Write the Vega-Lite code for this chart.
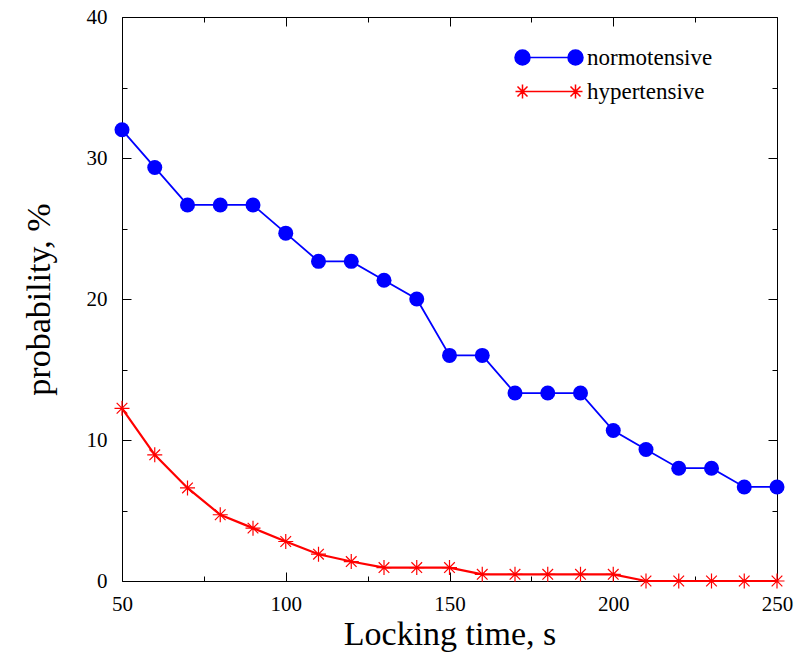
{
  "$schema": "https://vega.github.io/schema/vega-lite/v6.json",
  "autosize": {"type": "none"},
  "width": 655,
  "height": 564,
  "padding": {"left": 122, "top": 17, "right": 31, "bottom": 72},
  "background": "white",
  "config": {
    "view": {"stroke": "#000000", "strokeWidth": 1},
    "axis": {
      "domain": false,
      "grid": false,
      "labelFlush": false,
      "tickColor": "#000000",
      "tickWidth": 1,
      "labelFont": "Liberation Serif",
      "labelFontSize": 21,
      "labelColor": "#000000",
      "titleFont": "Liberation Serif",
      "titleFontSize": 34,
      "titleFontWeight": "normal",
      "titleColor": "#000000"
    },
    "legend": {
      "labelFont": "Liberation Serif",
      "labelFontSize": 23,
      "labelColor": "#000000"
    }
  },
  "data": {
    "values": [
      {"time": 50, "series": "normotensive", "prob": 32.0},
      {"time": 60, "series": "normotensive", "prob": 29.33},
      {"time": 70, "series": "normotensive", "prob": 26.67},
      {"time": 80, "series": "normotensive", "prob": 26.67},
      {"time": 90, "series": "normotensive", "prob": 26.67},
      {"time": 100, "series": "normotensive", "prob": 24.67},
      {"time": 110, "series": "normotensive", "prob": 22.67},
      {"time": 120, "series": "normotensive", "prob": 22.67},
      {"time": 130, "series": "normotensive", "prob": 21.33},
      {"time": 140, "series": "normotensive", "prob": 20.0},
      {"time": 150, "series": "normotensive", "prob": 16.0},
      {"time": 160, "series": "normotensive", "prob": 16.0},
      {"time": 170, "series": "normotensive", "prob": 13.33},
      {"time": 180, "series": "normotensive", "prob": 13.33},
      {"time": 190, "series": "normotensive", "prob": 13.33},
      {"time": 200, "series": "normotensive", "prob": 10.67},
      {"time": 210, "series": "normotensive", "prob": 9.33},
      {"time": 220, "series": "normotensive", "prob": 8.0},
      {"time": 230, "series": "normotensive", "prob": 8.0},
      {"time": 240, "series": "normotensive", "prob": 6.67},
      {"time": 250, "series": "normotensive", "prob": 6.67},
      {"time": 50, "series": "hypertensive", "prob": 12.25},
      {"time": 60, "series": "hypertensive", "prob": 8.95},
      {"time": 70, "series": "hypertensive", "prob": 6.6},
      {"time": 80, "series": "hypertensive", "prob": 4.7},
      {"time": 90, "series": "hypertensive", "prob": 3.75},
      {"time": 100, "series": "hypertensive", "prob": 2.8},
      {"time": 110, "series": "hypertensive", "prob": 1.9},
      {"time": 120, "series": "hypertensive", "prob": 1.38},
      {"time": 130, "series": "hypertensive", "prob": 0.95},
      {"time": 140, "series": "hypertensive", "prob": 0.95},
      {"time": 150, "series": "hypertensive", "prob": 0.95},
      {"time": 160, "series": "hypertensive", "prob": 0.47},
      {"time": 170, "series": "hypertensive", "prob": 0.47},
      {"time": 180, "series": "hypertensive", "prob": 0.47},
      {"time": 190, "series": "hypertensive", "prob": 0.47},
      {"time": 200, "series": "hypertensive", "prob": 0.47},
      {"time": 210, "series": "hypertensive", "prob": 0.0},
      {"time": 220, "series": "hypertensive", "prob": 0.0},
      {"time": 230, "series": "hypertensive", "prob": 0.0},
      {"time": 240, "series": "hypertensive", "prob": 0.0},
      {"time": 250, "series": "hypertensive", "prob": 0.0}
    ]
  },
  "resolve": {"axis": {"x": "independent", "y": "independent"}},
  "layer": [
    {
      "transform": [{"filter": "datum.series === 'normotensive'"}],
      "mark": {"type": "line", "strokeWidth": 1.8, "color": "#0000ff", "clip": false},
      "encoding": {
        "x": {"field": "time", "type": "quantitative", "scale": {"domain": [50, 250], "nice": false, "zero": false},
              "axis": {"orient": "bottom", "values": [50, 100, 150, 200, 250], "tickSize": -9, "labelPadding": 21, "title": "Locking time, s", "titlePadding": 3}},
        "y": {"field": "prob", "type": "quantitative", "scale": {"domain": [0, 40], "nice": false},
              "axis": {"orient": "left", "values": [0, 10, 20, 30, 40], "tickSize": -9, "labelPadding": 24, "title": "probability, %", "titlePadding": 30}}
      }
    },
    {
      "transform": [{"filter": "datum.series === 'hypertensive'"}],
      "mark": {"type": "line", "strokeWidth": 2.2, "color": "#ff0000", "clip": false},
      "encoding": {
        "x": {"field": "time", "type": "quantitative", "axis": null},
        "y": {"field": "prob", "type": "quantitative", "axis": null}
      }
    },
    {
      "transform": [{"filter": "datum.series === 'normotensive'"}],
      "mark": {"type": "point", "shape": "circle", "filled": true, "color": "#0000ff", "size": 225, "opacity": 1, "clip": false},
      "encoding": {
        "x": {"field": "time", "type": "quantitative", "axis": {"orient": "bottom", "values": [75, 125, 175, 225], "tickSize": -5, "labels": false, "title": null}},
        "y": {"field": "prob", "type": "quantitative", "axis": {"orient": "left", "values": [5, 15, 25, 35], "tickSize": -5, "labels": false, "title": null}}
      }
    },
    {
      "transform": [{"filter": "datum.series === 'hypertensive'"}],
      "mark": {"type": "point", "shape": "M-1,0L1,0M0,-1L0,1M-0.71,-0.71L0.71,0.71M-0.71,0.71L0.71,-0.71", "filled": false, "color": "#ff0000", "strokeWidth": 1.2, "size": 225, "opacity": 1, "clip": false},
      "encoding": {
        "x": {"field": "time", "type": "quantitative", "axis": {"orient": "top", "values": [50, 100, 150, 200, 250], "tickSize": -9, "labels": false, "title": null}},
        "y": {"field": "prob", "type": "quantitative", "axis": {"orient": "right", "values": [0, 10, 20, 30, 40], "tickSize": -9, "labels": false, "title": null}}
      }
    },
    {
      "mark": {"type": "point", "filled": true, "opacity": 0},
      "encoding": {
        "x": {"field": "time", "type": "quantitative", "axis": {"orient": "top", "values": [75, 125, 175, 225], "tickSize": -5, "labels": false, "title": null}},
        "y": {"field": "prob", "type": "quantitative", "axis": {"orient": "right", "values": [5, 15, 25, 35], "tickSize": -5, "labels": false, "title": null}},
        "color": {"field": "series", "type": "nominal",
                  "scale": {"domain": ["normotensive", "hypertensive"], "range": ["#0000ff", "#ff0000"]},
                  "legend": {
                    "title": null,
                    "orient": "none",
                    "legendX": 442,
                    "legendY": 29,
                    "padding": 0,
                    "symbolSize": 400,
                    "symbolStrokeWidth": 1.5,
                    "symbolOpacity": 1,
                    "labelOffset": 0,
                    "rowPadding": 10,
                    "encode": {"symbols": {"update": {"opacity": {"value": 1}, "stroke": {"scale": "color", "field": "value"}, "fill": {"scale": "color", "field": "value"}}}}
                  }},
        "shape": {"field": "series", "type": "nominal",
                  "scale": {"domain": ["normotensive", "hypertensive"],
                            "range": ["M-5.3,0L0,0M-6.05,0A0.75,0.75 0 1,0 -4.55,0A0.75,0.75 0 1,0 -6.05,0ZM-0.75,0A0.75,0.75 0 1,0 0.75,0A0.75,0.75 0 1,0 -0.75,0Z",
                                      "M-5.3,0L0,0M-6,0L-4.6,0M-5.3,-0.7L-5.3,0.7M-5.8,-0.5L-4.8,0.5M-5.8,0.5L-4.8,-0.5M-0.7,0L0.7,0M0,-0.7L0,0.7M-0.5,-0.5L0.5,0.5M-0.5,0.5L0.5,-0.5"]},
                  "legend": {
                    "title": null,
                    "orient": "none",
                    "legendX": 442,
                    "legendY": 29,
                    "padding": 0,
                    "symbolSize": 400,
                    "symbolStrokeWidth": 1.5,
                    "symbolOpacity": 1,
                    "labelOffset": 0,
                    "rowPadding": 10,
                    "encode": {"symbols": {"update": {"opacity": {"value": 1}, "stroke": {"scale": "color", "field": "value"}, "fill": {"scale": "color", "field": "value"}}}}
                  }}
      }
    }
  ]
}
